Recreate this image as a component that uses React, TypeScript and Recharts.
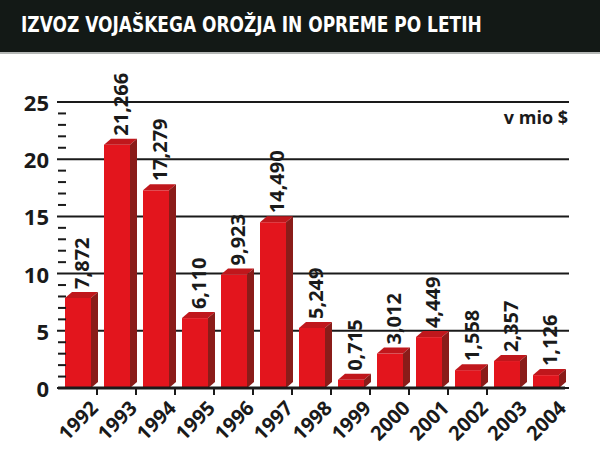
import { BarChart, Bar, XAxis, YAxis, CartesianGrid, LabelList } from 'recharts'

const years = ['1992', '1993', '1994', '1995', '1996', '1997', '1998', '1999', '2000', '2001', '2002', '2003', '2004']
const exports = [7.872, 21.266, 17.279, 6.11, 9.923, 14.49, 5.249, 0.715, 3.012, 4.449, 1.558, 2.357, 1.126]
const yTicks = [0, 1, 2, 3, 4, 5, 6, 7, 8, 9, 10, 11, 12, 13, 14, 15, 16, 17, 18, 19, 20, 21, 22, 23, 24, 25]
const gridValues = [0, 5, 10, 15, 20, 25]

const title = 'IZVOZ VOJAŠKEGA OROŽJA IN OPREME PO LETIH'
const unit = 'v mio $'

const W = 600
const H = 458
const X_AXIS_H = 30
const MARGIN = { top: 102, right: 35, bottom: 70 - X_AXIS_H, left: 0 }
const Y_AXIS_W = 58
const HALF_BAND = (W - Y_AXIS_W - MARGIN.right) / years.length / 2
const FONT = '"Open Sans", "DejaVu Sans", sans-serif'
const DEPTH_X = 7
const DEPTH_Y = 6

const data = years.map((year, i) => ({ year, value: exports[i] }))

// 3D bar: front face + top + side
function Bar3D(props: any) {
  const { x, y, width, height } = props
  if (!height) return null
  const x2 = x + width
  const bottom = y + height
  return (
    <g>
      <rect x={x} y={y} width={width} height={height} fill="#e3151d" />
      <polygon
        points={`${x},${y} ${x + DEPTH_X},${y - DEPTH_Y} ${x2 + DEPTH_X},${y - DEPTH_Y} ${x2},${y}`}
        fill="#c0171c"
      />
      <polygon
        points={`${x2},${y} ${x2 + DEPTH_X},${y - DEPTH_Y} ${x2 + DEPTH_X},${bottom - DEPTH_Y} ${x2},${bottom}`}
        fill="#8a1c19"
      />
    </g>
  )
}

function ValueLabel(props: any) {
  const { x, y, width, value } = props
  const cx = x + width / 2 + 4
  const cy = y - 9
  return (
    <text
      x={cx}
      y={cy}
      transform={`rotate(-90, ${cx}, ${cy})`}
      textAnchor="start"
      dominantBaseline="central"
      fontFamily={FONT}
      fontWeight={700}
      fontSize={20}
      fill="#1a1a1a"
    >
      {Number(value).toFixed(3).replace('.', ',')}
    </text>
  )
}

function YTick(props: any) {
  const { x, y, payload } = props
  const v = payload.value
  if (v % 5 === 0) {
    return (
      <text
        x={x - 9}
        y={y}
        textAnchor="end"
        dominantBaseline="central"
        fontFamily={FONT}
        fontWeight={700}
        fontSize={22}
        fill="#1a1a1a"
      >
        {v}
      </text>
    )
  }
  return <line x1={x} x2={x + 8} y1={y} y2={y} stroke="#1a1a1a" strokeWidth={2} />
}

function XTick(props: any) {
  const { x, y, payload, index } = props
  // tick marks sit between categories (the last two are missing in the original)
  const bx = x + HALF_BAND
  const tx = bx - 3
  const ty = y + 16
  return (
    <g>
      {index < years.length - 2 && (
        <line x1={bx} x2={bx} y1={y} y2={y + 7} stroke="#1a1a1a" strokeWidth={2} />
      )}
      <text
        x={tx}
        y={ty}
        transform={`rotate(-45, ${tx}, ${ty})`}
        textAnchor="end"
        dominantBaseline="central"
        fontFamily={FONT}
        fontWeight={700}
        fontSize={20}
        fill="#1a1a1a"
      >
        {payload.value}
      </text>
    </g>
  )
}

function GridLine(props: any) {
  const { x1, x2, y1 } = props
  return <line x1={x1 - 1} x2={x2 + 4} y1={y1} y2={y1} stroke="#1a1a1a" strokeWidth={2} />
}

export default function App() {
  return (
    <div style={{ position: 'absolute', left: 0, top: 0, width: W, height: H, background: '#fff' }}>
      <BarChart width={W} height={H} data={data} margin={MARGIN}>
        <CartesianGrid vertical={false} horizontal={GridLine} horizontalValues={gridValues} />
        <XAxis
          dataKey="year"
          interval={0}
          height={X_AXIS_H}
          tickLine={false}
          tickSize={0}
          tickMargin={0}
          axisLine={{ stroke: '#1a1a1a', strokeWidth: 3 }}
          tick={<XTick />}
        />
        <YAxis
          type="number"
          domain={[0, 25]}
          ticks={yTicks}
          interval={0}
          width={Y_AXIS_W}
          tickSize={0}
          tickMargin={0}
          axisLine={false}
          tickLine={false}
          tick={<YTick />}
        />
        <Bar dataKey="value" barSize={26} shape={<Bar3D />} isAnimationActive={false}>
          <LabelList dataKey="value" content={<ValueLabel />} />
        </Bar>
      </BarChart>
      <div
        style={{
          position: 'absolute',
          left: 0,
          top: 0,
          width: W,
          height: 52,
          background: '#131916',
          borderBottom: '2px solid #b5b8b6',
        }}
      >
        <div
          style={{
            position: 'absolute',
            left: 21,
            top: 12,
            color: '#fff',
            fontFamily: '"DejaVu Sans Condensed", "DejaVu Sans", sans-serif',
            fontWeight: 700,
            fontSize: 21,
            lineHeight: '26px',
            whiteSpace: 'nowrap',
            transform: 'scaleX(0.9)',
            transformOrigin: 'left center',
          }}
        >
          {title}
        </div>
      </div>
      <div
        style={{
          position: 'absolute',
          right: 32,
          top: 105,
          fontFamily: FONT,
          fontWeight: 700,
          fontSize: 18,
          lineHeight: '24px',
          color: '#1a1a1a',
        }}
      >
        {unit}
      </div>
    </div>
  )
}
